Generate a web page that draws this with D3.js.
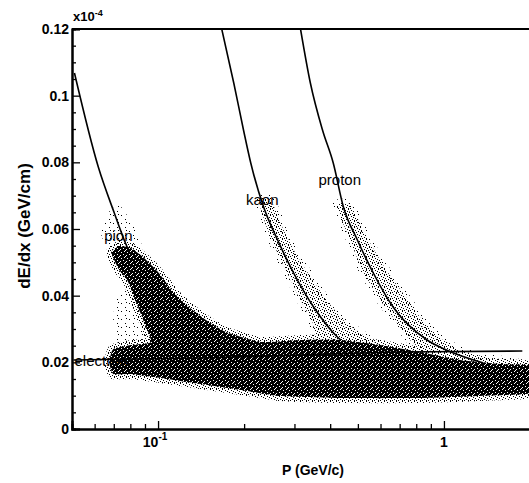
<!DOCTYPE html>
<html>
<head>
<meta charset="utf-8">
<script src="https://cdn.jsdelivr.net/npm/d3@7"></script>
<style>
    body { margin: 0; background: #fff; }
    svg { display: block; font-family: "Liberation Sans", Arial, sans-serif; }
    .axis path, .axis line { stroke: #000; }
    .axis path { stroke-width: 2; }
    .axis line { stroke-width: 1.3; }
    .axis text { display: none; }
    .tick-label { font-size: 14px; font-weight: bold; fill: #000; }
    .axis-title { font-weight: bold; fill: #000; }
    .curve { fill: none; stroke: #000; stroke-width: 1.6; }
    .label { font-size: 15px; fill: #000; }
</style>
</head>
<body>
<div id="chart"></div>
<script>

// fitted dE/dx curves, momentum in GeV/c, dE/dx in GeV/cm
const pionP = [0.0510, 0.0618, 0.0703, 0.0774, 0.0873, 0.104, 0.151, 0.229, 0.470, 1.0, 1.98];
const pionDedx = [0.1068, 0.0786, 0.0648, 0.0552, 0.0468, 0.0366, 0.0267, 0.0207, 0.0177, 0.0156, 0.0147];
const kaonP = [0.167, 0.184, 0.199, 0.211, 0.234, 0.262, 0.298, 0.350, 0.424, 0.510, 1.0, 1.98];
const kaonDedx = [0.12, 0.1038, 0.0897, 0.0798, 0.0666, 0.0567, 0.0468, 0.0366, 0.0276, 0.0228, 0.0171, 0.0147];
const protonP = [0.315, 0.341, 0.376, 0.410, 0.445, 0.498, 0.566, 0.664, 0.873, 1.02, 1.34, 1.98];
const protonDedx = [0.12, 0.1038, 0.0897, 0.0798, 0.0666, 0.0567, 0.0468, 0.0366, 0.0267, 0.0237, 0.0201, 0.0171];
const electronP = [0.0506, 0.141, 0.315, 0.703, 1.88];
const electronDedx = [0.0207, 0.0213, 0.0222, 0.0231, 0.0234];

// outlines of the point clouds (pion + electron core, kaon band, proton band, loose points)
const denseP = [0.0686, 0.0731, 0.0805, 0.0894, 0.100, 0.113, 0.127, 0.147, 0.173, 0.229, 0.315, 0.434,
    0.598, 0.825, 1.14, 1.57, 2.2, 2.2, 1.34, 0.825, 0.434, 0.268, 0.195, 0.141, 0.102, 0.0805, 0.0697,
    0.0675, 0.0697, 0.0805, 0.0945, 0.0887, 0.0832, 0.0780, 0.0731, 0.0697];
const denseDedx = [0.0531, 0.0549, 0.0543, 0.0513, 0.0471, 0.0411, 0.0369, 0.0327, 0.0291, 0.0261, 0.0267, 0.0267,
    0.0252, 0.0231, 0.0207, 0.0195, 0.0186, 0.0111, 0.0099, 0.0093, 0.0093, 0.0099, 0.0117, 0.0135, 0.0153, 0.0165, 0.0165,
    0.0201, 0.0240, 0.0252, 0.0261, 0.0327, 0.0387, 0.0447, 0.0477, 0.0513];
const kaonBandP = [0.225, 0.242, 0.264, 0.291, 0.315, 0.347, 0.364, 0.552, 0.452, 0.388, 0.347, 0.305, 0.275, 0.248];
const kaonBandDedx = [0.0687, 0.0597, 0.0522, 0.0447, 0.0387, 0.0321, 0.0267, 0.0261, 0.0321, 0.0387, 0.0447, 0.0522, 0.0597, 0.0687];
const protonBandP = [0.420, 0.470, 0.518, 0.598, 0.675, 0.761, 0.894, 1.23, 2.2,
    2.2, 1.45, 1.14, 0.969, 0.838, 0.749, 0.628, 0.544, 0.470];
const protonBandDedx = [0.0672, 0.0567, 0.0477, 0.0387, 0.0327, 0.0267, 0.0222, 0.0192, 0.0168,
    0.0186, 0.0213, 0.0237, 0.0273, 0.0327, 0.0387, 0.0477, 0.0567, 0.0672];
const wedgeP = [0.0714, 0.0793, 0.0887, 0.0945, 0.0731, 0.0697];
const wedgeDedx = [0.0387, 0.0417, 0.0321, 0.0261, 0.0252, 0.0327];
const tailP = [0.0659, 0.0731, 0.0818, 0.0873, 0.0686, 0.0633];
const tailDedx = [0.0642, 0.0672, 0.0612, 0.0552, 0.0537, 0.0582];

// particle labels: text, momentum and dE/dx of the label's left baseline
const labelNames = ["pion", "kaon", "proton", "electron"];
const labelP = [0.0648, 0.203, 0.364, 0.0510];
const labelDedx = [0.0564, 0.0672, 0.0732, 0.0189];

// ticks
const yMajor = [0, 0.02, 0.04, 0.06, 0.08, 0.1, 0.12];
const yLabels = ["0", "0.02", "0.04", "0.06", "0.08", "0.1", "0.12"];
const yMinor = [0.005, 0.01, 0.015, 0.025, 0.03, 0.035, 0.045, 0.05, 0.055, 0.065, 0.07, 0.075,
    0.085, 0.09, 0.095, 0.105, 0.11, 0.115];
const xMajor = [0.1, 1];
const xLabelBase = ["10", "1"];
const xLabelExp = ["-1", ""];
const xMinor = [0.06, 0.07, 0.08, 0.09, 0.2, 0.3, 0.4, 0.5, 0.6, 0.7, 0.8, 0.9, 2];

function dedxChart() {

    // margin convention, the plot box runs off the right edge like in the scan
    let margin = {top: 29, left: 72, right: -1, bottom: 54},
        totalWidth = 529,
        totalHeight = 483,
        width = totalWidth - margin.left - margin.right,
        height = totalHeight - margin.top - margin.bottom,

        xScale = d3.scaleLog().domain([0.05, 2]).range([0, width]),
        yScale = d3.scaleLinear().domain([0, 0.12]).range([height, 0]),

        zip = (a, b) => a.map((d, i) => [d, b[i]]),

        line = d3.line()
            .x(d => xScale(d[0]))
            .y(d => yScale(d[1]))
            .curve(d3.curveMonotoneX),

        outline = d3.line()
            .x(d => xScale(d[0]))
            .y(d => yScale(d[1]))
            .curve(d3.curveCardinalClosed.tension(0.5));

    function chart(selector) {

        let svg = d3.select(selector)
            .append('svg')
            .attr('width', totalWidth)
            .attr('height', totalHeight);

        // speckle patterns standing in for the scatter of hits
        let defs = svg.append('defs');
        let speckle = function (id, size, bg, fg, spots) {
            let pat = defs.append('pattern')
                .attr('id', id)
                .attr('patternUnits', 'userSpaceOnUse')
                .attr('width', size)
                .attr('height', size);
            if (bg) pat.append('rect').attr('width', size).attr('height', size).attr('fill', bg);
            spots.forEach(s => pat.append('rect')
                .attr('x', s[0]).attr('y', s[1])
                .attr('width', 1).attr('height', 1)
                .attr('fill', fg));
        };
        speckle('dense', 6, '#000', '#fff', [[1, 1], [4, 0], [3, 3], [0, 4], [5, 5]]);
        speckle('sparse', 6, null, '#000', [[0, 0], [3, 1], [5, 2], [1, 3], [4, 4], [2, 5], [0, 5]]);
        speckle('faint', 8, null, '#000', [[1, 2], [5, 6], [6, 1]]);

        defs.append('clipPath').attr('id', 'plot-clip')
            .append('rect').attr('width', width).attr('height', height);

        let g = svg.append('g')
            .attr('transform', `translate(${margin.left},${margin.top})`);

        let plot = g.append('g').attr('clip-path', 'url(#plot-clip)');

        // loose points and the heavy particle bands
        [[tailP, tailDedx], [wedgeP, wedgeDedx]].forEach(d => {
            plot.append('path')
                .attr('d', outline(zip(d[0], d[1])))
                .attr('fill', 'url(#faint)');
        });
        [[kaonBandP, kaonBandDedx], [protonBandP, protonBandDedx]].forEach(d => {
            plot.append('path')
                .attr('d', outline(zip(d[0], d[1])))
                .attr('fill', 'url(#sparse)')
                .attr('stroke', 'url(#faint)')
                .attr('stroke-width', 8);
        });

        // fitted curves
        [[pionP, pionDedx], [kaonP, kaonDedx], [protonP, protonDedx]].forEach(d => {
            plot.append('path')
                .classed('curve', true)
                .attr('d', line(zip(d[0], d[1])));
        });

        // dense pion / electron core with a fuzzy rim
        plot.append('path')
            .attr('d', outline(zip(denseP, denseDedx)))
            .attr('fill', 'none')
            .attr('stroke', 'url(#sparse)')
            .attr('stroke-width', 10);
        plot.append('path')
            .attr('d', outline(zip(denseP, denseDedx)))
            .attr('fill', 'url(#dense)');

        plot.append('path')
            .classed('curve', true)
            .attr('d', line(zip(electronP, electronDedx)));

        // particle labels
        labelNames.forEach((name, i) => {
            g.append('text')
                .classed('label', true)
                .attr('x', xScale(labelP[i]))
                .attr('y', yScale(labelDedx[i]))
                .text(name);
        });

        // top frame line
        g.append('line')
            .attr('x1', 0).attr('x2', width)
            .attr('y1', 0).attr('y2', 0)
            .attr('stroke', '#000')
            .attr('stroke-width', 2);

        // y axis, ticks pointing into the plot
        g.append('g').classed('axis', true)
            .call(d3.axisLeft(yScale).tickValues(yMinor).tickSize(-4).tickFormat(''));
        g.append('g').classed('axis', true)
            .call(d3.axisLeft(yScale).tickValues(yMajor).tickSize(-8).tickFormat(''));

        yMajor.forEach((v, i) => {
            g.append('text')
                .classed('tick-label', true)
                .attr('x', -3)
                .attr('y', yScale(v))
                .attr('dy', '0.36em')
                .attr('text-anchor', 'end')
                .text(yLabels[i]);
        });

        // x axis
        g.append('g').classed('axis', true)
            .attr('transform', `translate(0,${height})`)
            .call(d3.axisBottom(xScale).tickValues(xMinor).tickSize(-5).tickFormat(''));
        g.append('g').classed('axis', true)
            .attr('transform', `translate(0,${height})`)
            .call(d3.axisBottom(xScale).tickValues(xMajor).tickSize(-8).tickFormat(''));

        xMajor.forEach((v, i) => {
            let t = g.append('text')
                .classed('tick-label', true)
                .attr('x', xScale(v) + (xLabelExp[i] ? -3 : 0))
                .attr('y', height + 18)
                .attr('text-anchor', 'middle');
            t.append('tspan').text(xLabelBase[i]);
            if (xLabelExp[i]) {
                t.append('tspan')
                    .attr('dy', -7)
                    .attr('font-size', '10px')
                    .text(xLabelExp[i]);
            }
        });

        // exponent marker on the y axis
        let ex = g.append('text')
            .classed('axis-title', true)
            .attr('x', 1)
            .attr('y', -8)
            .attr('font-size', '13px')
            .attr('font-weight', 'normal');
        ex.append('tspan').text('x10');
        ex.append('tspan').attr('dy', -5).attr('font-size', '9px').text('-4');

        // axis titles
        svg.append('text')
            .classed('axis-title', true)
            .attr('transform', 'translate(30,226) rotate(-90)')
            .attr('text-anchor', 'middle')
            .attr('font-size', '17px')
            .text('dE/dx (GeV/cm)');

        svg.append('text')
            .classed('axis-title', true)
            .attr('x', 313)
            .attr('y', 475)
            .attr('text-anchor', 'middle')
            .attr('font-size', '14px')
            .text('P (GeV/c)');

        return chart;
    }

    return chart;
}

dedxChart()('#chart');

</script>
</body>
</html>
